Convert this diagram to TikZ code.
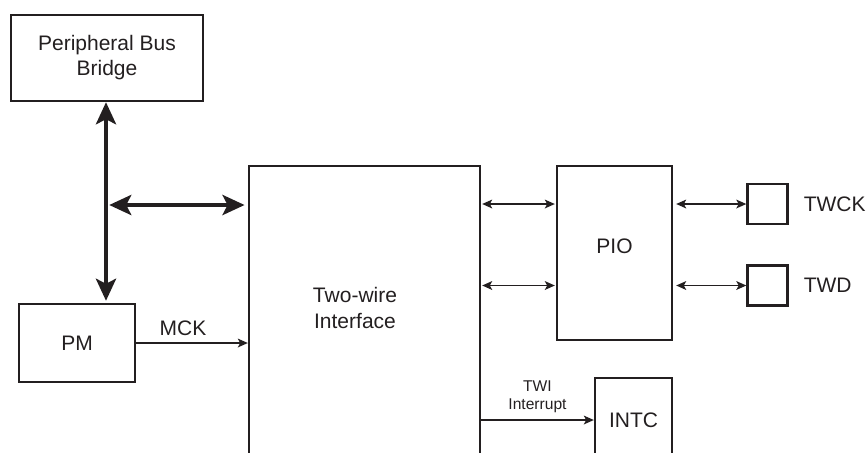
\documentclass[tikz,border=0pt]{standalone}
\usepackage{fontspec}
\setmainfont{Liberation Sans}
\usetikzlibrary{positioning,arrows.meta}
\definecolor{inkgray}{RGB}{35,31,32}

\begin{document}
\begin{tikzpicture}[x=0.5pt,y=-0.5pt,color=inkgray,
  blk/.style={draw,line width=1.2pt,inner sep=0pt,align=center,font=\fontsize{10.5}{12.5}\selectfont},
  sig/.style={line width=0.65pt,-{Stealth[length=5pt,width=4.4pt,inset=1.2pt]}},
  sigboth/.style={line width=0.65pt,{Stealth[length=5pt,width=4.4pt,inset=1.2pt]}-{Stealth[length=5pt,width=4.4pt,inset=1.2pt]}},
  bus/.style={line width=2.4pt,{Stealth[length=11pt,width=10pt,inset=2.5pt]}-{Stealth[length=11pt,width=10pt,inset=2.5pt]}}]
\clip (0,0) rectangle (868,452);
\node[blk,minimum width=96pt,minimum height=43pt] (bridge) at (107,58) {Peripheral Bus\\Bridge};
\node[blk,minimum width=58pt,minimum height=39pt] (pm) at (77,343) {PM};
\node[blk,minimum width=115.5pt,minimum height=157pt,
  label={[xshift=-4.75pt,yshift=7.5pt,align=center,font=\fontsize{10.5}{13}\selectfont]center:Two-wire\\Interface}] (twi) at (364.5,323) {};
\node[blk,minimum width=57.5pt,minimum height=87pt,
  label={[yshift=3.3pt,font=\fontsize{10.5}{12.5}\selectfont]center:PIO}] (pio) at (614.5,253) {};
\node[blk,minimum width=38.5pt,minimum height=42pt] (intc) at (633.5,420) {INTC};
\node[blk,minimum width=20pt,minimum height=20pt,
  label={[label distance=4pt,font=\fontsize{10.5}{12.5}\selectfont]right:TWCK}] (twck) at (767.5,204) {};
\node[blk,minimum width=20pt,minimum height=20pt,
  label={[label distance=4pt,font=\fontsize{10.5}{12.5}\selectfont]right:TWD}] (twd) at (767.5,285.5) {};
\coordinate (busjoin) at (106,205);
\draw[bus,shorten >=1pt] (bridge.south -| busjoin) -- (busjoin |- pm.north);
\draw[bus,shorten <=1.6pt,shorten >=1.6pt] (busjoin) -- (twi.west |- busjoin);
\draw[sig] (pm.east) -- node[pos=0.42,above,font=\fontsize{10.5}{12.5}\selectfont] {MCK} (twi.west |- pm.east);
\draw[sigboth,shorten <=0.5pt,shorten >=0.5pt] (twi.east |- twck) -- (pio.west |- twck);
\draw[sigboth,shorten <=0.5pt,shorten >=0.5pt] (twi.east |- twd) -- (pio.west |- twd);
\draw[sigboth,shorten <=1.5pt] (pio.east |- twck) -- (twck.west);
\draw[sigboth,shorten <=1.5pt] (pio.east |- twd) -- (twd.west);
\draw[sig] (twi.east |- intc.west) -- node[above,align=center,font=\fontsize{7.8}{9}\selectfont] {TWI\\Interrupt} (intc.west);
\end{tikzpicture}
\end{document}
